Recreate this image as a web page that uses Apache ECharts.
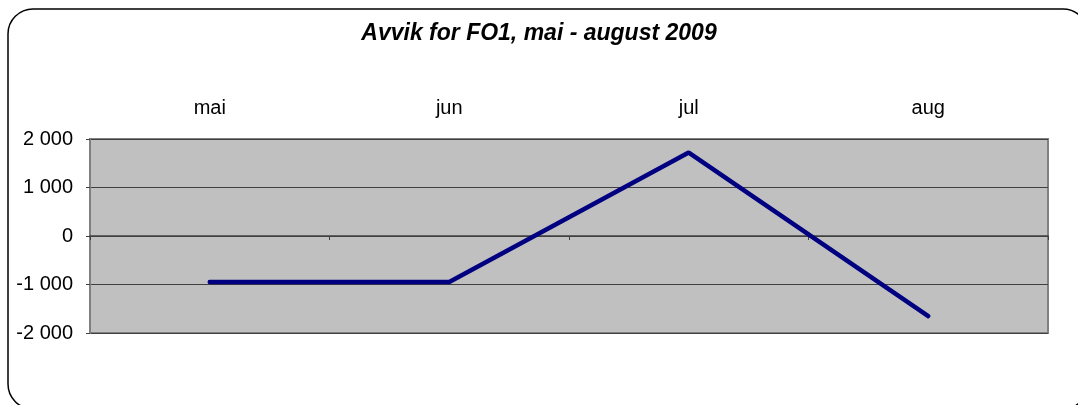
<!DOCTYPE html>
<html>
<head>
<meta charset="utf-8">
<script src="https://cdn.jsdelivr.net/npm/echarts@6/dist/echarts.min.js"></script>
<style>
  html, body { margin: 0; padding: 0; background: #fff; }
  #chart { width: 1078px; height: 405px; }
</style>
</head>
<body>
<div id="chart"></div>
<script>
const months = ['mai', 'jun', 'jul', 'aug'];
const avvik = [-950, -950, 1720, -1650];
const yTicks = [-2000, -1000, 0, 1000, 2000];

const fmt = v => {
  const s = String(Math.abs(v)).replace(/\B(?=(\d{3})+(?!\d))/g, ' ');
  return (v < 0 ? '-' : '') + s;
};

const chart = echarts.init(document.getElementById('chart'));

chart.setOption({
  animation: false,
  backgroundColor: '#fff',
  textStyle: { fontFamily: 'Liberation Sans, Arial, sans-serif' },
  title: {
    text: 'Avvik for FO1, mai - august 2009',
    left: 'center',
    top: 17,
    textStyle: {
      fontSize: 23,
      fontStyle: 'italic',
      fontWeight: 'bold',
      color: '#000'
    }
  },
  graphic: [{
    type: 'rect',
    shape: { x: 8, y: 9, width: 1080, height: 400, r: 25 },
    style: { fill: 'none', stroke: '#000', lineWidth: 1.5 },
    silent: true
  }],
  grid: {
    left: 90,
    right: 30,
    top: 139,
    bottom: 72,
    show: true,
    backgroundColor: '#C0C0C0',
    borderColor: '#808080',
    borderWidth: 2
  },
  xAxis: [{
    // month labels above the plot
    type: 'category',
    data: months,
    position: 'top',
    axisLine: { show: false, onZero: false },
    axisTick: { show: false },
    axisLabel: { margin: 21, fontSize: 20, color: '#000' }
  }, {
    // zero line with ticks between categories
    type: 'category',
    data: months,
    position: 'bottom',
    axisLine: { onZero: true, onZeroAxisIndex: 0, lineStyle: { color: '#404040', width: 1.5 } },
    axisTick: { show: true, length: 4, lineStyle: { color: '#404040' } },
    axisLabel: { show: false }
  }],
  yAxis: {
    type: 'value',
    min: yTicks[0],
    max: yTicks[yTicks.length - 1],
    interval: 1000,
    axisLine: { show: true, onZero: false, lineStyle: { color: '#808080', width: 2 } },
    axisTick: { show: true, length: 4, lineStyle: { color: '#404040' } },
    axisLabel: { margin: 17, fontSize: 20, color: '#000', formatter: fmt },
    splitLine: { lineStyle: { color: '#404040', width: 1 } }
  },
  series: [{
    type: 'line',
    xAxisIndex: 1,
    data: avvik,
    showSymbol: false,
    lineStyle: { color: '#000080', width: 4.5, cap: 'round' },
    itemStyle: { color: '#000080' }
  }]
});
</script>
</body>
</html>
